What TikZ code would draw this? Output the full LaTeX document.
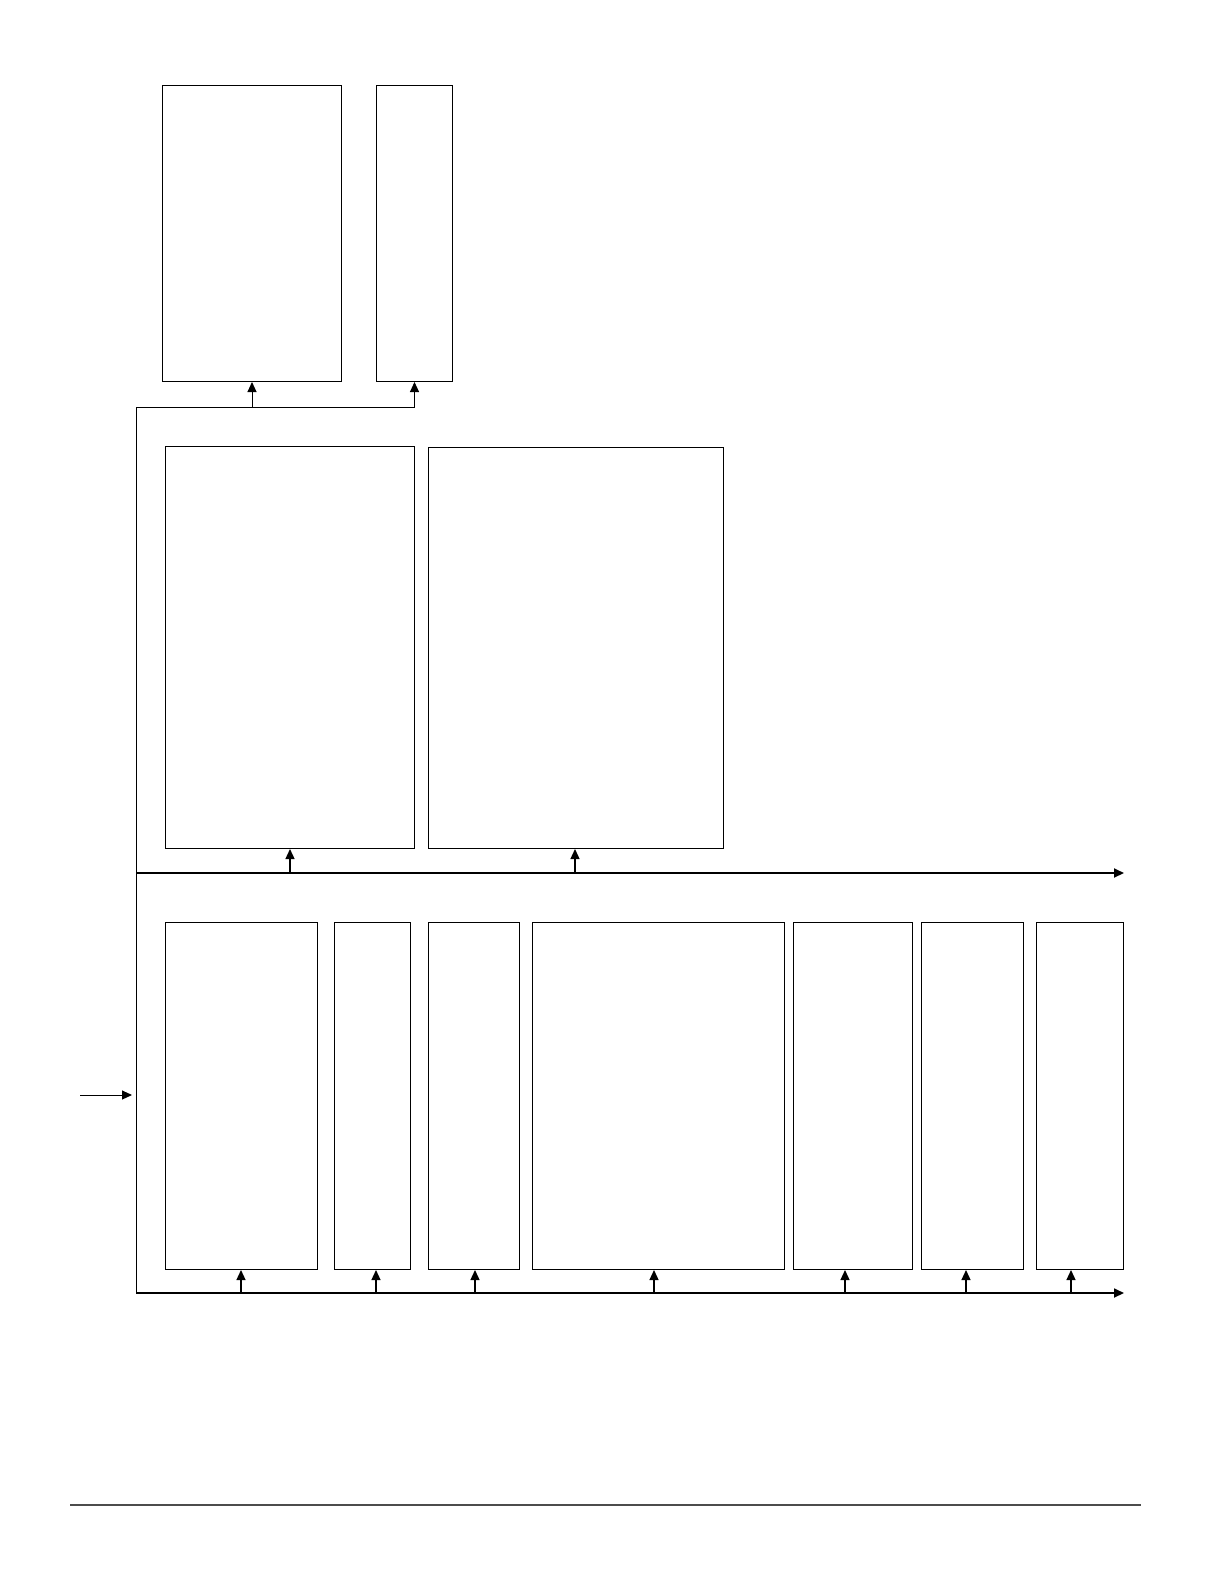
\documentclass[tikz,border=0pt]{standalone}
\usetikzlibrary{arrows.meta}
\begin{document}
\begin{tikzpicture}[x=1bp,y=-1bp,line join=miter,>={Triangle[length=10bp,width=9bp]}]
	\tikzset{
		blk/.style={draw,line width=1bp,inner sep=0pt,anchor=north west},
		bus/.style={line width=1.8bp},
		feed/.style={line width=1.3bp,->}
	}
	\useasboundingbox (0,0) rectangle (1224,1584);
	% upper pair
	\node[blk,minimum width=179bp,minimum height=296bp] (t1) at (162,85) {};
	\node[blk,minimum width=76bp,minimum height=296bp] (t2) at (376,85) {};
	% middle pair
	\node[blk,minimum width=249bp,minimum height=402bp] (m1) at (165,446) {};
	\node[blk,minimum width=295bp,minimum height=401bp] (m2) at (428,447) {};
	% lower row
	\node[blk,minimum width=152bp,minimum height=347bp] (b1) at (165,922) {};
	\node[blk,minimum width=76bp,minimum height=347bp] (b2) at (334,922) {};
	\node[blk,minimum width=91bp,minimum height=347bp] (b3) at (428,922) {};
	\node[blk,minimum width=252bp,minimum height=347bp] (b4) at (532,922) {};
	\node[blk,minimum width=119bp,minimum height=347bp] (b5) at (793,922) {};
	\node[blk,minimum width=102bp,minimum height=347bp] (b6) at (921,922) {};
	\node[blk,minimum width=87bp,minimum height=347bp] (b7) at (1036,922) {};
	% trunk and buses
	\coordinate (in) at (80,1095);
	\coordinate (trk) at (132,1095);
	\coordinate (top) at (136,407);
	\coordinate (mid) at (136,873);
	\coordinate (low) at (136,1293);
	\coordinate (midE) at (1124,873);
	\coordinate (lowE) at (1124,1293);
	\draw[line width=1bp] (top)--(low);
	\draw[line width=1bp,->] (top)-|(t2.south);
	\draw[bus,->] (mid)--(midE);
	\draw[bus,->] (low)--(lowE);
	\draw[line width=1bp,->] (in)--(trk);
	% feeds
	\draw[line width=1bp,->] (top-|t1.south)--(t1.south);
	\draw[feed] (mid-|290,0)--(290,0|-m1.south);
	\draw[feed] (mid-|575,0)--(575,0|-m2.south);
	\foreach \b/\x in {b1/241,b2/376,b3/475,b4/654,b5/845,b6/966,b7/1071}
		\draw[feed] (low-|\x,0)--(\x,0|-\b.south);
	% footer
	\draw[line width=1.2bp,black!70] (70,1505)--(1141,1505);
\end{tikzpicture}
\end{document}
